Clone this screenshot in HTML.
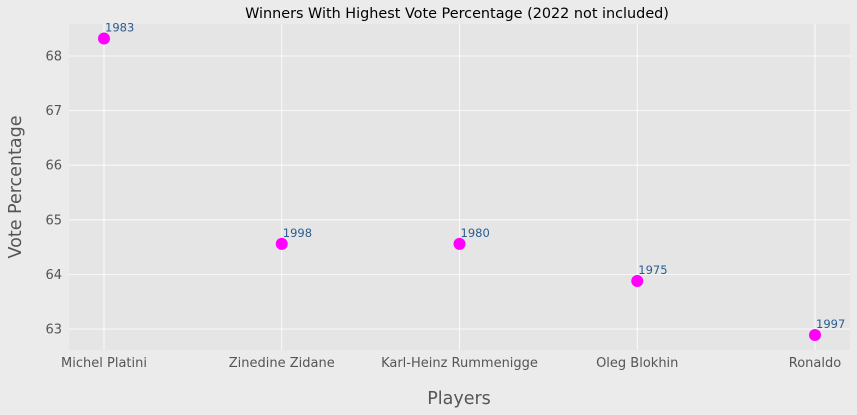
<!DOCTYPE html>
<html><head><meta charset="utf-8"><style>
body{margin:0;background:#ebebeb;}
svg{display:block;font-family:"DejaVu Sans","Liberation Sans",sans-serif;}
</style></head><body>
<svg id="chart" width="857" height="415">
<rect width="857" height="415" fill="#ebebeb"/>
<rect x="69" y="24" width="781" height="326" fill="#e5e5e5"/>
<g id="grid"></g><g id="ticks"></g><g id="marks"></g>
<text x="457" y="18" text-anchor="middle" font-size="14.4" fill="#000">Winners With Highest Vote Percentage (2022 not included)</text>
<text x="459" y="404" text-anchor="middle" font-size="17.5" fill="#555">Players</text>
<text transform="translate(21,187) rotate(-90)" text-anchor="middle" font-size="17.5" fill="#555">Vote Percentage</text>
</svg>
<script>
const players=["Michel Platini","Zinedine Zidane","Karl-Heinz Rummenigge","Oleg Blokhin","Ronaldo"];
const votes=[68.32,64.56,64.56,63.88,62.89];
const years=["1983","1998","1980","1975","1997"];
const yTicks=[63,64,65,66,67,68];
const ns="http://www.w3.org/2000/svg";
function xs(i){return 104+i*177.75;}
function ys(v){return 56+(68-v)*54.6;}
function mk(tag,attrs,parent,text){const e=document.createElementNS(ns,tag);for(const k in attrs)e.setAttribute(k,attrs[k]);if(text!==undefined)e.textContent=text;document.getElementById(parent).appendChild(e);return e;}
yTicks.forEach(t=>{
 const y=ys(t);
 const g=mk('line',{x1:69,x2:850,y1:y,y2:y,stroke:'#fff','stroke-width':0.8},'grid');
 
 
 const l=mk('text',{x:62,y:y+4.5,'text-anchor':'end','font-size':13,fill:'#555'},'ticks',String(t));
 
 
});
players.forEach((p,i)=>{
 const x=xs(i);
 const g=mk('line',{x1:x,x2:x,y1:24,y2:350,stroke:'#fff','stroke-width':0.8},'grid');
 
 
 const l=mk('text',{x:x,y:367,'text-anchor':'middle','font-size':13,fill:'#555'},'ticks',p);
 
 
 const c=mk('circle',{cx:x,cy:ys(votes[i]),r:6,fill:'#ff00ff'},'marks');
 
 
 const a=mk('text',{x:x+1,y:ys(votes[i])-7,'font-size':11.5,fill:'#2a5d8f'},'marks',years[i]);
 
 
});
</script>
</body></html>
